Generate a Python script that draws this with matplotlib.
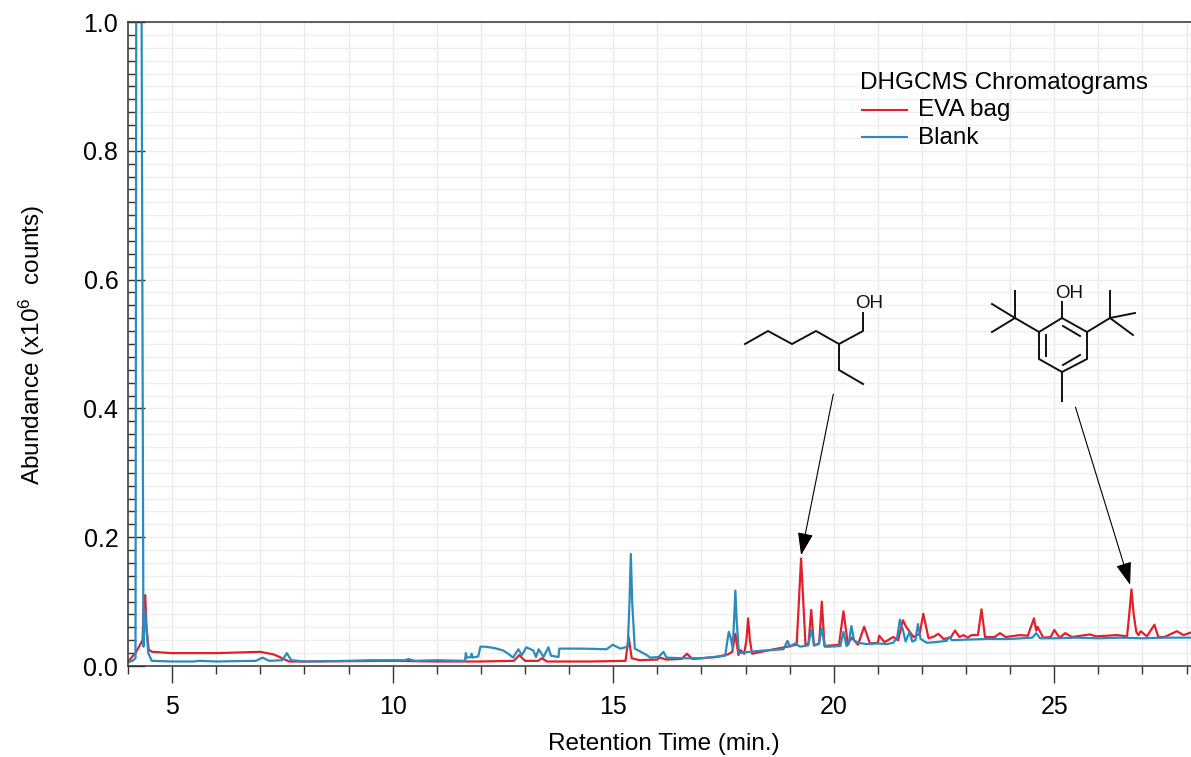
import matplotlib
matplotlib.use('Agg')
import numpy as np
import matplotlib.pyplot as plt
from matplotlib.lines import Line2D
from matplotlib.transforms import Affine2D

W = 1191
H = 757

blank_t = [4.0, 4.1, 4.17, 4.19, 4.30, 4.35, 4.385, 4.46, 4.54, 5.0, 5.5, 5.6, 6.0, 6.9, 7.05, 7.2, 7.5, 7.6, 7.7,
           8.0, 9.0, 9.5, 10.3, 10.35, 10.5, 11.0, 11.64, 11.66, 11.68, 11.78, 11.79, 11.81, 11.94, 11.99, 12.09,
           12.3, 12.51, 12.62, 12.73, 12.85, 12.93, 13.03, 13.19, 13.25, 13.31, 13.42, 13.53, 13.59, 13.76, 13.78,
           14.32, 14.85, 14.99, 15.16, 15.33, 15.37, 15.40, 15.43, 15.49, 15.76, 15.84, 16.03, 16.14, 16.21, 16.59, 17.0,
           17.54, 17.58, 17.62, 17.66, 17.71, 17.74, 17.77, 17.80, 17.85, 17.95, 18.4, 18.86, 18.95, 19.01, 19.12, 19.24,
           19.42, 19.49, 19.56, 19.66, 19.73, 19.80, 19.9, 20.15, 20.22, 20.29, 20.34, 20.40, 20.46, 20.55, 20.75, 21.0, 21.2, 21.35,
           21.44, 21.50, 21.56, 21.63, 21.72, 21.78, 21.85, 21.91, 21.97, 22.11, 22.3, 22.56, 22.62, 22.68, 23.0, 23.5, 24.0,
           24.5, 24.59, 24.68, 25.0, 25.5, 26.0, 26.5, 27.0, 27.5, 28.1]
blank_y = [.006, .008, .012, 1.2, 1.2, .03, .087, .02, .008, .007, .007, .008, .007, .008, .013, .008, .009, .020, .009,
           .007, .008, .009, .009, .011, .008, .009, .008, .020, .013, .014, .019, .013, .015, .030, .030,
           .028, .024, .019, .013, .026, .017, .029, .024, .014, .026, .014, .029, .016, .014, .027,
           .027, .026, .033, .027, .030, .10, .174, .10, .027, .017, .013, .014, .022, .013, .012, .012,
           .016, .035, .053, .045, .027, .07, .117, .07, .020, .021, .024, .026, .039, .030, .035, .030,
           .032, .056, .032, .034, .058, .030, .030, .031, .053, .031, .034, .062, .040, .036, .034, .035, .034, .036,
           .045, .072, .058, .038, .053, .038, .040, .065, .042, .036, .037, .039, .045, .040, .041, .042, .042,
           .044, .051, .043, .043, .044, .043, .044, .043, .044, .044]

eva_t = [4.0, 4.1, 4.17, 4.33, 4.36, 4.39, 4.42, 4.47, 4.55, 5.0, 6.0, 7.0, 7.3, 7.5, 7.65, 8.0, 10.0, 11.0, 12.0, 12.75,
         12.87, 13.0, 13.3, 13.38, 13.5, 14.5, 15.28, 15.35, 15.42, 15.6, 16.0, 16.06, 16.2, 16.55, 16.67, 16.8,
         17.35, 17.6, 17.70, 17.77, 17.84, 17.88, 17.97, 18.02, 18.06, 18.10, 18.15, 18.5, 18.8, 19.16, 19.21, 19.26, 19.31, 19.36,
         19.43, 19.49, 19.55, 19.67, 19.73, 19.79, 20.12, 20.22, 20.32, 20.41, 20.55, 20.69, 20.82, 21.0, 21.03, 21.15, 21.35, 21.46, 21.57, 21.64,
         21.81, 21.95, 22.03, 22.15, 22.28, 22.37, 22.49, 22.65, 22.75, 22.85, 22.94, 23.04, 23.12, 23.27, 23.35, 23.43,
         23.65, 23.77, 23.9, 24.22, 24.4, 24.54, 24.59, 24.62, 24.75, 24.92, 25.0, 25.12, 25.25, 25.4, 25.81,
         25.95, 26.42, 26.65, 26.70, 26.75, 26.80, 26.86, 26.91, 26.96, 27.10, 27.27, 27.36, 27.5, 27.78, 27.93, 28.1]
eva_y = [.006, .015, .02, .04, .10, .11, .06, .025, .022, .020, .020, .022, .018, .012, .007, .007, .008, .007, .007, .008,
         .017, .008, .008, .012, .007, .007, .008, .045, .012, .009, .010, .013, .010, .011, .019, .011,
         .014, .018, .022, .05, .017, .025, .019, .04, .074, .04, .019, .024, .028, .033, .10, .167, .10, .033,
         .035, .087, .032, .035, .10, .031, .033, .085, .034, .044, .033, .061, .035, .036, .047, .037, .045, .040, .071, .061,
         .045, .050, .081, .043, .046, .050, .042, .044, .055, .045, .048, .044, .048, .048, .088, .045,
         .045, .051, .045, .048, .047, .074, .055, .061, .044, .045, .056, .044, .051, .045, .049,
         .046, .048, .046, .08, .119, .08, .053, .048, .054, .046, .064, .045, .045, .054, .048, .052]

x_major = [5, 10, 15, 20, 25]
y_major = [0.0, 0.2, 0.4, 0.6, 0.8, 1.0]

# molecules, in reference pixels
hexanol_bonds = [
    [(745, 344), (768, 331), (792, 344), (816, 331), (839, 344), (863, 331), (863, 313)],
    [(839, 344), (839, 370), (863, 384)],
]
bht_bonds = [
    [(1062, 318), (1087, 332), (1087, 359), (1062, 372), (1039, 359), (1039, 332), (1062, 318)],
    [(1062, 318), (1062, 302)],
    [(1039, 332), (1015, 318), (1015, 291)],
    [(1015, 318), (992, 304)],
    [(1015, 318), (992, 332)],
    [(1087, 332), (1110, 318), (1110, 291)],
    [(1110, 318), (1135, 313)],
    [(1110, 318), (1133, 335)],
    [(1062, 372), (1062, 401)],
    [(1063, 326), (1080, 336)],
    [(1046, 335), (1046, 356)],
    [(1063, 365), (1080, 355)],
]

plt.rcParams['font.family'] = ['Liberation Sans', 'DejaVu Sans']
plt.rcParams['mathtext.fontset'] = 'custom'
plt.rcParams['mathtext.rm'] = 'Liberation Sans'
plt.rcParams['mathtext.default'] = 'rm'

fig = plt.figure(figsize=(W / 100, H / 100), dpi=100)
ax = fig.add_axes([128 / W, 1 - 666 / H, (W - 128) / W, (666 - 22) / H])

ax.set_xlim(4, 28.1)
ax.set_ylim(0, 1)

ax.set_xticks(x_major)
ax.set_xticks(np.arange(4, 29, 1), minor=True)
ax.set_yticks(y_major)
ax.set_yticks(np.arange(0, 1.01, 0.02), minor=True)
ax.set_xticklabels([str(v) for v in x_major])
ax.set_yticklabels(['%.1f' % v for v in y_major])

ax.grid(True, which='both', axis='y', color='#efefef', lw=1.0)
ax.grid(True, which='both', axis='x', color='#e9e9e9', lw=0.9)
ax.set_axisbelow(True)

ax.tick_params(axis='x', which='major', direction='out', length=12.2, width=1, pad=9, labelsize=18, color='#333333')
ax.tick_params(axis='x', which='minor', direction='out', length=5.8, width=1, color='#333333')
ax.tick_params(axis='y', which='major', direction='in', length=12.2, width=1, pad=7, labelsize=18, color='#333333')
ax.tick_params(axis='y', which='minor', direction='in', length=5.8, width=1, color='#333333')

ax.spines['right'].set_visible(False)
for s in ['left', 'top', 'bottom']:
    ax.spines[s].set_linewidth(1.1)
    ax.spines[s].set_color('#333333')

ax.plot(eva_t, eva_y, color='#e2202c', lw=1.6)
ax.plot(blank_t, blank_y, color='#2a8bbd', lw=1.6)

# peak arrows
ax.annotate('', xy=(19.26, 0.172), xytext=(19.99, 0.422),
            arrowprops=dict(arrowstyle='-|>,head_length=1.4,head_width=0.48', color='black', lw=0.8,
                            shrinkA=0, shrinkB=0))
ax.annotate('', xy=(26.72, 0.126), xytext=(25.48, 0.402),
            arrowprops=dict(arrowstyle='-|>,head_length=1.4,head_width=0.48', color='black', lw=0.8,
                            shrinkA=0, shrinkB=0))

pix = Affine2D().scale(1 / W, -1 / H).translate(0, 1) + fig.transFigure

for bond in hexanol_bonds + bht_bonds:
    xs = [p[0] for p in bond]
    ys = [p[1] for p in bond]
    fig.add_artist(Line2D(xs, ys, transform=pix, color='#111111', lw=1.4, solid_joinstyle='miter'))

fig.text(869, 304, 'OH', transform=pix, fontsize=13.5, ha='center', va='center', color='#111111')
fig.text(1069, 294, 'OH', transform=pix, fontsize=13.5, ha='center', va='center', color='#111111')

# legend
fig.text(860, 83, 'DHGCMS Chromatograms', transform=pix, fontsize=17.5, ha='left', va='center')
fig.text(918, 110, 'EVA bag', transform=pix, fontsize=17.5, ha='left', va='center')
fig.text(918, 138, 'Blank', transform=pix, fontsize=17.5, ha='left', va='center')
fig.add_artist(Line2D([862, 907], [110, 110], transform=pix, color='#e2202c', lw=1.5))
fig.add_artist(Line2D([862, 907], [137, 137], transform=pix, color='#2a8bbd', lw=1.5))

# axis titles
fig.text(664, 744, 'Retention Time (min.)', transform=pix, fontsize=17.5, ha='center', va='center')
fig.text(32, 345, 'Abundance (x10$^{6}$  counts)', transform=pix, fontsize=17.5, rotation=90,
         ha='center', va='center')

fig.savefig('out.png', dpi=100)
